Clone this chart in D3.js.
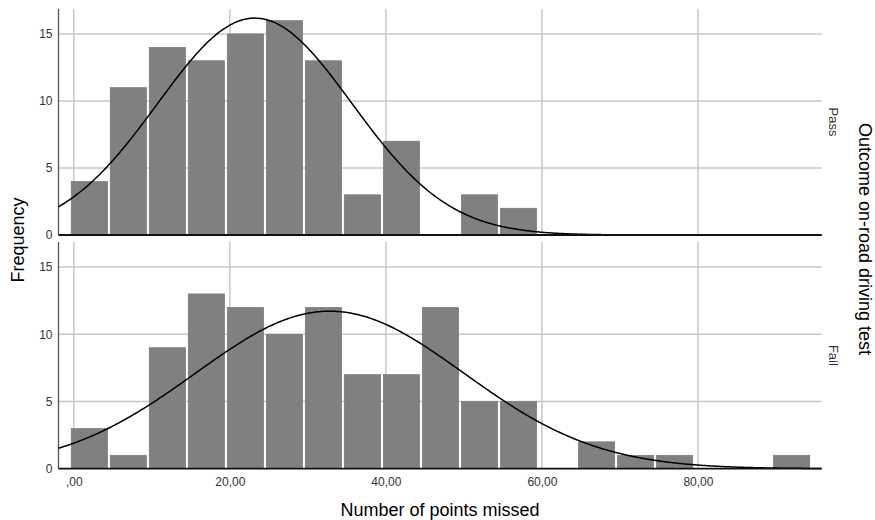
<!DOCTYPE html>
<html lang="en">
<head>
<meta charset="UTF-8">
<title>Number of points missed by outcome</title>
<style>
  body { margin: 0; background: #fff; }
  text { font-family: "Liberation Sans", Arial, sans-serif; }
</style>
</head>
<body>
<script src="https://d3js.org/d3.v7.min.js"></script>
<script>
const width = 875;
const height = 520;

// lower edge of each 5-point bin
const binLow = [-0.5, 4.5, 9.5, 14.5, 19.5, 24.5, 29.5, 34.5, 39.5, 44.5,
                49.5, 54.5, 59.5, 64.5, 69.5, 74.5, 79.5, 84.5, 89.5];
const binWidth = 5;
const passCounts = [4, 11, 14, 13, 15, 16, 13, 3, 7, 0, 3, 2, 0, 0, 0, 0, 0, 0, 0];
const failCounts = [3, 1, 9, 13, 12, 10, 12, 7, 7, 12, 5, 5, 0, 2, 1, 1, 0, 0, 1];
const groups = ["Pass", "Fail"];
// normal curve fits
const curveMean = [23.2, 32.8];
const curveSd = [12.45, 17.2];
const groupN = [101, 101];

const xTicks = [0, 20, 40, 60, 80];
const xTickLabels = [",00", "20,00", "40,00", "60,00", "80,00"];
const yTicks = [0, 5, 10, 15];
const yGrid = [5, 10, 15];

const svg = d3.select("body").append("svg")
  .attr("width", width)
  .attr("height", height);

const x = d3.scaleLinear().domain([-1.96, 95.86]).range([58.5, 821.7]);

const panels = [
  { name: groups[0], counts: passCounts, top: 9, bottom: 235, mean: curveMean[0], sd: curveSd[0], n: groupN[0] },
  { name: groups[1], counts: failCounts, top: 242, bottom: 468.7, mean: curveMean[1], sd: curveSd[1], n: groupN[1] }
];

const curveXs = d3.range(-1.96, 95.9, 0.2);

panels.forEach(p => {
  const y = d3.scaleLinear().domain([0, 16.86]).range([p.bottom, p.top]);
  const g = svg.append("g");

  // grid
  g.selectAll("line.vgrid").data(xTicks).enter().append("line")
    .attr("x1", d => x(d)).attr("x2", d => x(d))
    .attr("y1", p.top).attr("y2", p.bottom)
    .attr("stroke", "#c8c8c8").attr("stroke-width", 1.5);
  g.selectAll("line.hgrid").data(yGrid).enter().append("line")
    .attr("x1", x.range()[0]).attr("x2", x.range()[1])
    .attr("y1", d => y(d)).attr("y2", d => y(d))
    .attr("stroke", "#c8c8c8").attr("stroke-width", 1.5);

  // bars
  g.selectAll("rect").data(p.counts.map((c, i) => ({ lo: binLow[i], c })).filter(d => d.c > 0))
    .enter().append("rect")
    .attr("x", d => x(d.lo) + 1.3)
    .attr("width", d => x(d.lo + binWidth) - x(d.lo) - 2.6)
    .attr("y", d => y(d.c))
    .attr("height", d => y(0) - y(d.c))
    .attr("fill", "#808080")
    .attr("stroke", "#747474")
    .attr("stroke-width", 0.6);

  // axes lines
  g.append("line")
    .attr("x1", x.range()[0]).attr("x2", x.range()[0])
    .attr("y1", p.top).attr("y2", p.bottom)
    .attr("stroke", "#555").attr("stroke-width", 1.3);

  // normal curve
  const dens = v => p.n * binWidth / (p.sd * Math.sqrt(2 * Math.PI)) *
    Math.exp(-((v - p.mean) ** 2) / (2 * p.sd * p.sd));
  g.append("path")
    .datum(curveXs)
    .attr("fill", "none")
    .attr("stroke", "#000")
    .attr("stroke-width", 1.5)
    .attr("d", d3.line().x(d => x(d)).y(d => y(dens(d))).curve(d3.curveBasis));

  g.append("line")
    .attr("x1", x.range()[0]).attr("x2", x.range()[1])
    .attr("y1", p.bottom).attr("y2", p.bottom)
    .attr("stroke", "#111").attr("stroke-width", 1.8);

  // y tick labels
  const ax = g.append("g")
    .attr("transform", `translate(${x.range()[0] - 5},0)`)
    .call(d3.axisLeft(y).tickValues(yTicks).tickSize(0).tickPadding(1));
  ax.select(".domain").remove();
  ax.selectAll("text").attr("font-size", 12).attr("fill", "#333")
    .style("font-family", "'Liberation Sans', Arial, sans-serif");

  // panel label
  g.append("text")
    .attr("transform", `translate(829,${(p.top + p.bottom) / 2}) rotate(90)`)
    .attr("text-anchor", "middle")
    .attr("font-size", 13)
    .attr("fill", "#333")
    .text(p.name);
});

// x tick labels
const xa = svg.append("g")
  .attr("transform", "translate(0,477)")
  .call(d3.axisBottom(x).tickValues(xTicks).tickFormat((d, i) => xTickLabels[i]).tickSize(0).tickPadding(0));
xa.select(".domain").remove();
xa.selectAll("text").attr("font-size", 12).attr("fill", "#333")
  .style("font-family", "'Liberation Sans', Arial, sans-serif");

// titles
svg.append("text")
  .attr("x", 440).attr("y", 516)
  .attr("text-anchor", "middle")
  .attr("font-size", 18)
  .attr("fill", "#000")
  .text("Number of points missed");

svg.append("text")
  .attr("transform", "translate(24,240) rotate(-90)")
  .attr("text-anchor", "middle")
  .attr("font-size", 18)
  .attr("fill", "#000")
  .text("Frequency");

svg.append("text")
  .attr("transform", "translate(859,239) rotate(90)")
  .attr("text-anchor", "middle")
  .attr("font-size", 18)
  .attr("fill", "#000")
  .text("Outcome on-road driving test");
</script>
</body>
</html>
